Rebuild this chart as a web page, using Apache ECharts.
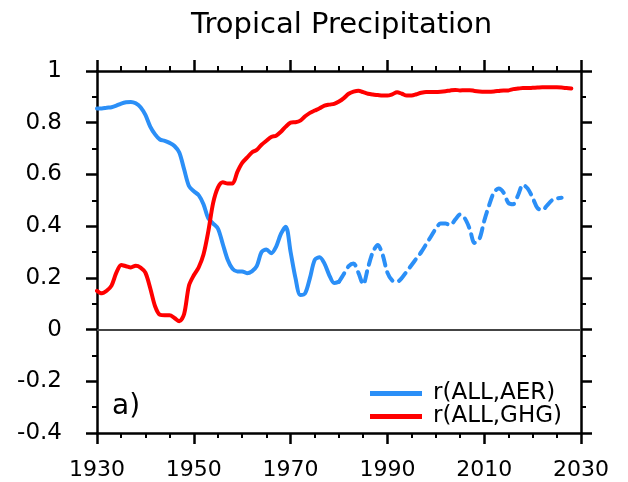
<!DOCTYPE html>
<html>
<head>
<meta charset="utf-8">
<script src="https://cdn.jsdelivr.net/npm/echarts@6/dist/echarts.min.js"></script>
<style>
html,body{margin:0;padding:0;background:#fff;}
#chart{width:628px;height:482px;}
</style>
</head>
<body>
<div id="chart"></div>
<script>
// ---- data ----
var titleText = 'Tropical Precipitation';
var panelLabel = 'a)';
var xTicks = [1930, 1950, 1970, 1990, 2010, 2030];
var yTicks = [-0.4, -0.2, 0, 0.2, 0.4, 0.6, 0.8, 1];
var seriesNames = ['r(ALL,AER)', 'r(ALL,GHG)'];

// r(ALL,AER), solid part, years 1930..1980
var aerSolidStart = 1930;
var aerSolid = [0.855,0.855,0.858,0.860,0.866,0.874,0.879,0.880,0.875,0.860,
                0.830,0.785,0.755,0.735,0.730,0.722,0.710,0.685,0.620,0.555,
                0.535,0.520,0.485,0.430,0.410,0.390,0.330,0.270,0.235,0.225,
                0.225,0.218,0.225,0.245,0.300,0.310,0.295,0.320,0.370,0.398,
                0.300,0.200,0.134,0.140,0.200,0.270,0.280,0.255,0.210,0.180,
                0.185];
// r(ALL,AER), dashed part, years 1980..2026
var aerDashedStart = 1980;
var aerDashed = [0.185,0.215,0.245,0.256,0.220,0.175,0.240,0.300,0.327,0.290,
                 0.220,0.190,0.185,0.200,0.225,0.250,0.275,0.300,0.330,0.360,
                 0.390,0.410,0.410,0.404,0.425,0.445,0.430,0.390,0.335,0.350,
                 0.420,0.480,0.530,0.546,0.530,0.490,0.485,0.520,0.560,0.545,
                 0.510,0.470,0.462,0.480,0.500,0.507,0.510];
// r(ALL,GHG), years 1930..2028
var ghgStart = 1930;
var ghg = [0.150,0.140,0.150,0.170,0.220,0.250,0.245,0.240,0.247,0.240,
           0.220,0.160,0.090,0.057,0.055,0.055,0.045,0.032,0.060,0.170,
           0.210,0.240,0.290,0.380,0.490,0.550,0.570,0.565,0.565,0.610,
           0.645,0.665,0.685,0.695,0.715,0.730,0.745,0.750,0.765,0.785,
           0.800,0.802,0.808,0.825,0.838,0.847,0.856,0.866,0.870,0.873,
           0.882,0.895,0.912,0.920,0.924,0.918,0.912,0.909,0.907,0.905,
           0.905,0.910,0.918,0.912,0.905,0.905,0.910,0.916,0.919,0.919,
           0.919,0.920,0.922,0.925,0.927,0.925,0.926,0.926,0.923,0.921,
           0.920,0.920,0.921,0.923,0.925,0.925,0.930,0.932,0.934,0.934,
           0.935,0.936,0.937,0.937,0.937,0.937,0.936,0.934,0.932];

function pairs(start, vals){
  return vals.map(function(v,i){ return [start + i, v]; });
}

var BLUE = '#2b8ff7';
var RED = '#ff0000';
var FONT = 'DejaVu Sans';

var chart = echarts.init(document.getElementById('chart'), null, {renderer:'canvas'});

function xAxisDef(pos, showLabel){
  return {
    type:'value', position:pos, min:xTicks[0], max:xTicks[xTicks.length-1], interval:20,
    axisLine:{show:true, onZero:false, lineStyle:{color:'#000', width:2.5}},
    axisTick:{show:true, inside:false, length:11, lineStyle:{color:'#000', width:2.5}},
    minorTick:{show:true, splitNumber:4, length:5, lineStyle:{color:'#000', width:2}},
    splitLine:{show:false},
    axisLabel:{show:showLabel, fontSize:22, color:'#000', fontFamily:FONT, margin:26,
      formatter:function(v){ return String(v); }}
  };
}
function yAxisDef(pos, showLabel){
  return {
    type:'value', position:pos, min:yTicks[0], max:yTicks[yTicks.length-1], interval:0.2,
    axisLine:{show:true, onZero:false, lineStyle:{color:'#000', width:2.5}},
    axisTick:{show:true, inside:false, length:11, lineStyle:{color:'#000', width:2.5}},
    minorTick:{show:true, splitNumber:2, length:5, lineStyle:{color:'#000', width:2}},
    splitLine:{show:false},
    axisLabel:{show:showLabel, fontSize:23, color:'#000', fontFamily:FONT, margin:35,
      formatter:function(v){ return String(Math.round(v*10)/10); }}
  };
}

chart.setOption({
  animation:false,
  backgroundColor:'#fff',
  title:{text:titleText, left:186, top:6,
    textStyle:{fontFamily:FONT, fontSize:29, fontWeight:'normal', color:'#000'}},
  grid:{left:97, right:47, top:71, bottom:49},
  xAxis:[xAxisDef('bottom', true), xAxisDef('top', false)],
  yAxis:[yAxisDef('left', true), yAxisDef('right', false)],
  legend:{
    orient:'vertical', left:365, top:377, itemWidth:52, itemHeight:5, itemGap:0,
    icon:'rect',
    data:[{name:seriesNames[0], itemStyle:{color:BLUE}}, {name:seriesNames[1], itemStyle:{color:RED}}],
    textStyle:{fontFamily:FONT, fontSize:23, color:'#000', padding:[0,0,0,6]}
  },
  graphic:[{type:'text', left:112, top:393,
    style:{text:panelLabel, font:'28px "DejaVu Sans"', fill:'#000'}}],
  series:[
    {name:'zero', type:'line', data:[], silent:true,
      markLine:{silent:true, symbol:'none', label:{show:false},
        lineStyle:{color:'#444', width:1.8, type:'solid'}, data:[{yAxis:0}]}},
    {name:seriesNames[0], type:'line', data:pairs(aerSolidStart, aerSolid), showSymbol:false,
      smooth:0.3, lineStyle:{color:BLUE, width:4, cap:'round', join:'round'}, itemStyle:{color:BLUE}},
    {name:'aer-dashed', type:'line', data:pairs(aerDashedStart, aerDashed), showSymbol:false,
      smooth:0.3, lineStyle:{color:BLUE, width:4, type:[10,7], cap:'round', join:'round'}, itemStyle:{color:BLUE}},
    {name:seriesNames[1], type:'line', data:pairs(ghgStart, ghg), showSymbol:false,
      smooth:0.3, lineStyle:{color:RED, width:4, cap:'round', join:'round'}, itemStyle:{color:RED}}
  ]
});
</script>
</body>
</html>
